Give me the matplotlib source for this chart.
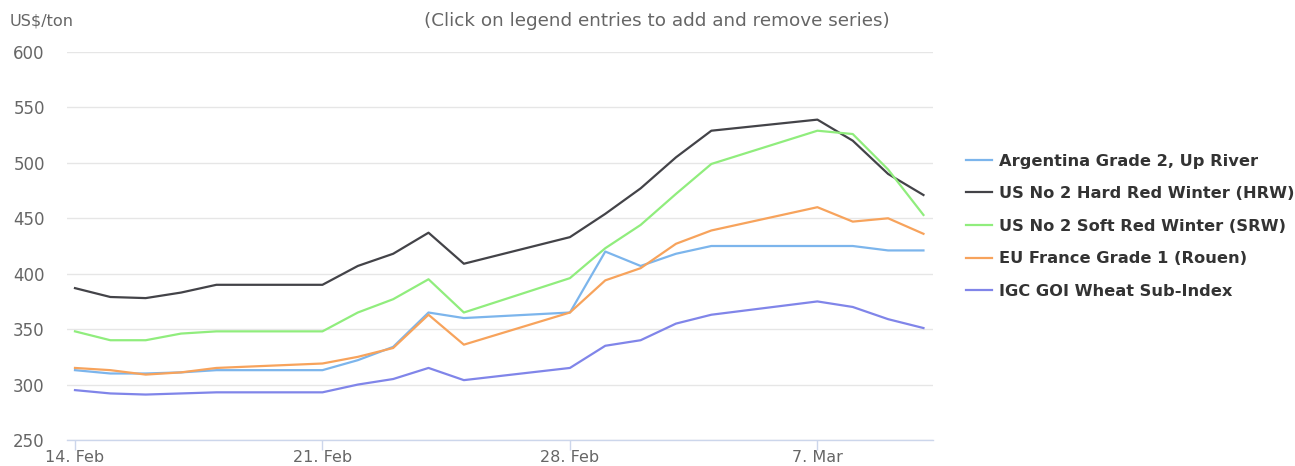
import matplotlib
matplotlib.use("Agg")
import matplotlib.pyplot as plt
import matplotlib.dates as mdates
import numpy as np
import datetime as dt

dates = ["2022-02-14", "2022-02-15", "2022-02-16", "2022-02-17", "2022-02-18",
         "2022-02-21", "2022-02-22", "2022-02-23", "2022-02-24", "2022-02-25",
         "2022-02-28", "2022-03-01", "2022-03-02", "2022-03-03", "2022-03-04",
         "2022-03-07", "2022-03-08", "2022-03-09", "2022-03-10"]

argentina = [313, 310, 310, 311, 313, 313, 322, 334, 365, 360,
             365, 420, 407, 418, 425, 425, 425, 421, 421]
hrw = [387, 379, 378, 383, 390, 390, 407, 418, 437, 409,
       433, 454, 477, 505, 529, 539, 520, 490, 471]
srw = [348, 340, 340, 346, 348, 348, 365, 377, 395, 365,
       396, 423, 444, 472, 499, 529, 526, 494, 453]
france = [315, 313, 309, 311, 315, 319, 325, 333, 363, 336,
          365, 394, 405, 427, 439, 460, 447, 450, 436]
igc = [295, 292, 291, 292, 293, 293, 300, 305, 315, 304,
       315, 335, 340, 355, 363, 375, 370, 359, 351]

series_names = ["Argentina Grade 2, Up River",
                "US No 2 Hard Red Winter (HRW)",
                "US No 2 Soft Red Winter (SRW)",
                "EU France Grade 1 (Rouen)",
                "IGC GOI Wheat Sub-Index"]
series_colors = ["#7cb5ec", "#434348", "#90ed7d", "#f7a35c", "#8085e9"]

tick_dates = ["2022-02-14", "2022-02-21", "2022-02-28", "2022-03-07"]
tick_labels = ["14. Feb", "21. Feb", "28. Feb", "7. Mar"]
y_ticks = [250, 300, 350, 400, 450, 500, 550, 600]

x = [dt.datetime.strptime(d, "%Y-%m-%d") for d in dates]
xt = [dt.datetime.strptime(d, "%Y-%m-%d") for d in tick_dates]

plt.rcParams['font.family'] = ['DejaVu Sans']

fig = plt.figure(figsize=(12.95, 4.66), dpi=100)
ax = fig.add_axes([67/1295, 1-440/466, (933-67)/1295, (440-52)/466])

for vals, name, col in zip([argentina, hrw, srw, france, igc], series_names, series_colors):
    ax.plot(x, vals, color=col, lw=1.6, label=name, solid_joinstyle='round')

ax.set_ylim(250, 600)
ax.set_yticks(y_ticks)
ax.set_yticklabels([str(v) for v in y_ticks], color="#666666", fontsize=12)
ax.set_xlim(x[0] - dt.timedelta(days=0.226), x[-1] + dt.timedelta(days=0.27))
ax.set_xticks(xt)
ax.set_xticklabels(tick_labels, color="#666666", fontsize=11.5)

ax.grid(axis='y', color="#e6e6e6", lw=1)
ax.set_axisbelow(True)
for s in ["top", "right", "left"]:
    ax.spines[s].set_visible(False)
ax.spines["bottom"].set_color("#ccd6eb")
ax.spines["bottom"].set_linewidth(1)
ax.tick_params(axis='y', length=0, pad=16)
ax.tick_params(axis='x', length=7, color="#ccd6eb", width=1, pad=0)

fig.text(10/1295, 1-21/466, "US$/ton", color="#666666", fontsize=11.6, va='center', ha='left')
fig.text(657/1295, 1-21/466, "(Click on legend entries to add and remove series)",
         color="#666666", fontsize=13.2, va='center', ha='center')

leg = ax.legend(loc='upper left', bbox_to_anchor=(951/1295, 1-139/466),
                bbox_transform=fig.transFigure, frameon=False,
                handlelength=1.6, handletextpad=0.45, labelspacing=1.08,
                prop={'weight': 'bold', 'size': 11.7})
for t in leg.get_texts():
    t.set_color("#333333")
for h in leg.get_lines():
    h.set_linewidth(1.6)

fig.savefig("out.png", dpi=100)
